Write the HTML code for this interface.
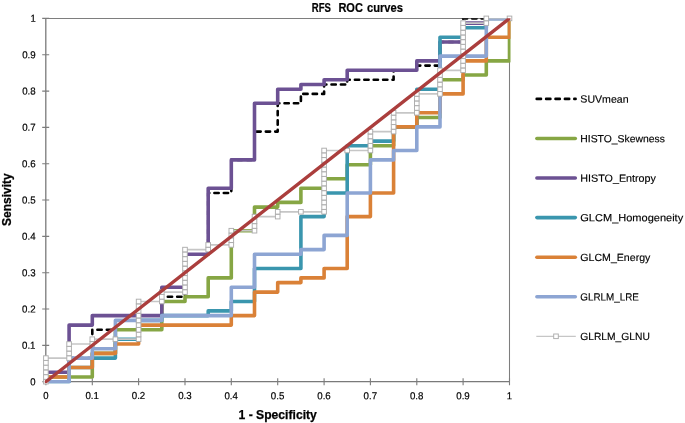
<!DOCTYPE html>
<html><head><meta charset="utf-8"><title>RFS ROC curves</title>
<style>
html,body{margin:0;padding:0;background:#fff;}
body{width:685px;height:423px;overflow:hidden;position:relative;font-family:"Liberation Sans",sans-serif;}
</style></head><body>
<svg width="685" height="423" viewBox="0 0 685 423" style="position:absolute;left:0;top:0;will-change:transform;opacity:0.999">
<rect width="685" height="423" fill="#fff"/>
<defs><clipPath id="pc"><rect x="44.7" y="18.2" width="465.8" height="365.3"/></clipPath></defs>
<path d="M45.9 18.4 H509.5 V381.7" fill="none" stroke="#7e7e7e" stroke-width="1.05"/>
<path d="M45.8 18.4 V381.7 H509.5" fill="none" stroke="#7a7a7a" stroke-width="1.3"/>
<path d="M45.9 378.2 V385.2 M42.2 381.7 H49.2 M92.3 378.2 V385.2 M42.2 345.4 H49.2 M138.6 378.2 V385.2 M42.2 309.0 H49.2 M185.0 378.2 V385.2 M42.2 272.7 H49.2 M231.3 378.2 V385.2 M42.2 236.4 H49.2 M277.7 378.2 V385.2 M42.2 200.0 H49.2 M324.1 378.2 V385.2 M42.2 163.7 H49.2 M370.4 378.2 V385.2 M42.2 127.4 H49.2 M416.8 378.2 V385.2 M42.2 91.1 H49.2 M463.1 378.2 V385.2 M42.2 54.7 H49.2 M509.5 378.2 V385.2 M42.2 18.4 H49.2" fill="none" stroke="#7c7c7c" stroke-width="1.1"/>
<g clip-path="url(#pc)">
<path d="M45.9 381.7 L45.9 372.3 L69.1 372.3 L69.1 358.1 L92.3 358.1 L92.3 329.8 L115.4 329.8 L138.6 329.8 L161.8 329.8 L161.8 296.8 L185.0 296.8 L185.0 254.3 L208.2 254.3 L208.2 193.0 L231.3 193.0 L231.3 159.9 L254.5 159.9 L254.5 131.6 L277.7 131.6 L277.7 103.3 L300.9 103.3 L300.9 93.9 L324.1 93.9 L324.1 84.5 L347.2 84.5 L347.2 79.7 L370.4 79.7 L393.6 79.7 L393.6 70.3 L416.8 70.3 L416.8 65.6 L440.0 65.6 L440.0 42.0 L463.1 42.0 L463.1 18.4 L486.3 18.4 L509.5 18.4" fill="none" stroke="#000000" stroke-width="2.6" stroke-linejoin="round" stroke-dasharray="4.3 5.1" stroke-linecap="round"/>
<path d="M45.9 381.7 L45.9 377.0 L69.1 377.0 L92.3 377.0 L92.3 353.4 L115.4 353.4 L115.4 329.8 L138.6 329.8 L161.8 329.8 L161.8 301.5 L185.0 301.5 L185.0 296.8 L208.2 296.8 L208.2 277.9 L231.3 277.9 L231.3 230.7 L254.5 230.7 L254.5 207.1 L277.7 207.1 L277.7 202.4 L300.9 202.4 L300.9 188.3 L324.1 188.3 L324.1 178.8 L347.2 178.8 L347.2 164.7 L370.4 164.7 L370.4 145.8 L393.6 145.8 L393.6 126.9 L416.8 126.9 L416.8 117.5 L440.0 117.5 L440.0 79.7 L463.1 79.7 L463.1 75.0 L486.3 75.0 L486.3 60.9 L509.5 60.9 L509.5 18.4" fill="none" stroke="#86A644" stroke-width="3.6" stroke-linejoin="round" stroke-linecap="round"/>
<path d="M45.9 381.7 L45.9 372.3 L69.1 372.3 L69.1 325.1 L92.3 325.1 L92.3 315.6 L115.4 315.6 L138.6 315.6 L161.8 315.6 L161.8 287.3 L185.0 287.3 L185.0 254.3 L208.2 254.3 L208.2 188.3 L231.3 188.3 L231.3 159.9 L254.5 159.9 L254.5 103.3 L277.7 103.3 L277.7 89.2 L300.9 89.2 L300.9 84.5 L324.1 84.5 L324.1 79.7 L347.2 79.7 L347.2 70.3 L370.4 70.3 L393.6 70.3 L416.8 70.3 L416.8 60.9 L440.0 60.9 L440.0 42.0 L463.1 42.0 L463.1 23.1 L486.3 23.1 L486.3 18.4 L509.5 18.4" fill="none" stroke="#6C5193" stroke-width="3.6" stroke-linejoin="round" stroke-linecap="round"/>
<path d="M45.9 381.7 L69.1 381.7 L69.1 367.5 L92.3 367.5 L92.3 358.1 L115.4 358.1 L115.4 339.2 L138.6 339.2 L138.6 320.4 L161.8 320.4 L161.8 315.6 L185.0 315.6 L208.2 315.6 L208.2 310.9 L231.3 310.9 L231.3 301.5 L254.5 301.5 L254.5 268.5 L277.7 268.5 L300.9 268.5 L300.9 216.6 L324.1 216.6 L324.1 193.0 L347.2 193.0 L347.2 145.8 L370.4 145.8 L370.4 141.1 L393.6 141.1 L393.6 126.9 L416.8 126.9 L416.8 89.2 L440.0 89.2 L440.0 37.3 L463.1 37.3 L463.1 27.8 L486.3 27.8 L486.3 18.4 L509.5 18.4" fill="none" stroke="#3A96AE" stroke-width="3.6" stroke-linejoin="round" stroke-linecap="round"/>
<path d="M45.9 381.7 L45.9 377.0 L69.1 377.0 L69.1 367.5 L92.3 367.5 L92.3 353.4 L115.4 353.4 L115.4 344.0 L138.6 344.0 L138.6 325.1 L161.8 325.1 L185.0 325.1 L208.2 325.1 L231.3 325.1 L231.3 315.6 L254.5 315.6 L254.5 292.1 L277.7 292.1 L277.7 282.6 L300.9 282.6 L300.9 277.9 L324.1 277.9 L324.1 268.5 L347.2 268.5 L347.2 216.6 L370.4 216.6 L370.4 193.0 L393.6 193.0 L393.6 126.9 L416.8 126.9 L416.8 112.8 L440.0 112.8 L440.0 93.9 L463.1 93.9 L463.1 60.9 L486.3 60.9 L486.3 37.3 L509.5 37.3 L509.5 18.4" fill="none" stroke="#DA8137" stroke-width="3.6" stroke-linejoin="round" stroke-linecap="round"/>
<path d="M45.9 381.7 L69.1 381.7 L69.1 358.1 L92.3 358.1 L92.3 348.7 L115.4 348.7 L115.4 320.4 L138.6 320.4 L161.8 320.4 L161.8 315.6 L185.0 315.6 L208.2 315.6 L231.3 315.6 L231.3 287.3 L254.5 287.3 L254.5 254.3 L277.7 254.3 L300.9 254.3 L300.9 249.6 L324.1 249.6 L324.1 235.4 L347.2 235.4 L347.2 193.0 L370.4 193.0 L370.4 159.9 L393.6 159.9 L393.6 150.5 L416.8 150.5 L416.8 126.9 L440.0 126.9 L440.0 56.1 L463.1 56.1 L486.3 56.1 L486.3 18.4 L509.5 18.4" fill="none" stroke="#8DA5D3" stroke-width="3.6" stroke-linejoin="round" stroke-linecap="round"/>
<path d="M45.9 381.7 L45.9 358.1 L69.1 358.1 L69.1 344.0 L92.3 344.0 L92.3 339.2 L115.4 339.2 L138.6 339.2 L138.6 301.5 L161.8 301.5 L161.8 292.1 L185.0 292.1 L185.0 249.6 L208.2 249.6 L208.2 244.9 L231.3 244.9 L231.3 230.7 L254.5 230.7 L254.5 216.6 L277.7 216.6 L277.7 211.8 L300.9 211.8 L324.1 211.8 L324.1 150.5 L347.2 150.5 L370.4 150.5 L370.4 131.6 L393.6 131.6 L393.6 112.8 L416.8 112.8 L416.8 93.9 L440.0 93.9 L440.0 70.3 L463.1 70.3 L463.1 23.1 L486.3 23.1 L486.3 18.4 L509.5 18.4" fill="none" stroke="#C6C6C6" stroke-width="1.7" stroke-linejoin="round"/>
</g>
<g fill="#fff" stroke="#ADADAD" stroke-width="0.95"><rect x="43.6" y="379.4" width="4.6" height="4.6"/><rect x="43.6" y="374.7" width="4.6" height="4.6"/><rect x="43.6" y="370.0" width="4.6" height="4.6"/><rect x="43.6" y="365.2" width="4.6" height="4.6"/><rect x="43.6" y="360.5" width="4.6" height="4.6"/><rect x="43.6" y="355.8" width="4.6" height="4.6"/><rect x="66.8" y="355.8" width="4.6" height="4.6"/><rect x="66.8" y="351.1" width="4.6" height="4.6"/><rect x="66.8" y="346.4" width="4.6" height="4.6"/><rect x="66.8" y="341.7" width="4.6" height="4.6"/><rect x="90.0" y="341.7" width="4.6" height="4.6"/><rect x="90.0" y="336.9" width="4.6" height="4.6"/><rect x="113.1" y="336.9" width="4.6" height="4.6"/><rect x="136.3" y="336.9" width="4.6" height="4.6"/><rect x="136.3" y="332.2" width="4.6" height="4.6"/><rect x="136.3" y="327.5" width="4.6" height="4.6"/><rect x="136.3" y="322.8" width="4.6" height="4.6"/><rect x="136.3" y="318.1" width="4.6" height="4.6"/><rect x="136.3" y="313.3" width="4.6" height="4.6"/><rect x="136.3" y="308.6" width="4.6" height="4.6"/><rect x="136.3" y="303.9" width="4.6" height="4.6"/><rect x="136.3" y="299.2" width="4.6" height="4.6"/><rect x="159.5" y="299.2" width="4.6" height="4.6"/><rect x="159.5" y="294.5" width="4.6" height="4.6"/><rect x="159.5" y="289.8" width="4.6" height="4.6"/><rect x="182.7" y="289.8" width="4.6" height="4.6"/><rect x="182.7" y="285.0" width="4.6" height="4.6"/><rect x="182.7" y="280.3" width="4.6" height="4.6"/><rect x="182.7" y="275.6" width="4.6" height="4.6"/><rect x="182.7" y="270.9" width="4.6" height="4.6"/><rect x="182.7" y="266.2" width="4.6" height="4.6"/><rect x="182.7" y="261.4" width="4.6" height="4.6"/><rect x="182.7" y="256.7" width="4.6" height="4.6"/><rect x="182.7" y="252.0" width="4.6" height="4.6"/><rect x="182.7" y="247.3" width="4.6" height="4.6"/><rect x="205.9" y="247.3" width="4.6" height="4.6"/><rect x="205.9" y="242.6" width="4.6" height="4.6"/><rect x="229.0" y="242.6" width="4.6" height="4.6"/><rect x="229.0" y="237.9" width="4.6" height="4.6"/><rect x="229.0" y="233.1" width="4.6" height="4.6"/><rect x="229.0" y="228.4" width="4.6" height="4.6"/><rect x="252.2" y="228.4" width="4.6" height="4.6"/><rect x="252.2" y="223.7" width="4.6" height="4.6"/><rect x="252.2" y="219.0" width="4.6" height="4.6"/><rect x="252.2" y="214.3" width="4.6" height="4.6"/><rect x="275.4" y="214.3" width="4.6" height="4.6"/><rect x="275.4" y="209.5" width="4.6" height="4.6"/><rect x="298.6" y="209.5" width="4.6" height="4.6"/><rect x="321.8" y="209.5" width="4.6" height="4.6"/><rect x="321.8" y="204.8" width="4.6" height="4.6"/><rect x="321.8" y="200.1" width="4.6" height="4.6"/><rect x="321.8" y="195.4" width="4.6" height="4.6"/><rect x="321.8" y="190.7" width="4.6" height="4.6"/><rect x="321.8" y="186.0" width="4.6" height="4.6"/><rect x="321.8" y="181.2" width="4.6" height="4.6"/><rect x="321.8" y="176.5" width="4.6" height="4.6"/><rect x="321.8" y="171.8" width="4.6" height="4.6"/><rect x="321.8" y="167.1" width="4.6" height="4.6"/><rect x="321.8" y="162.4" width="4.6" height="4.6"/><rect x="321.8" y="157.6" width="4.6" height="4.6"/><rect x="321.8" y="152.9" width="4.6" height="4.6"/><rect x="321.8" y="148.2" width="4.6" height="4.6"/><rect x="344.9" y="148.2" width="4.6" height="4.6"/><rect x="368.1" y="148.2" width="4.6" height="4.6"/><rect x="368.1" y="143.5" width="4.6" height="4.6"/><rect x="368.1" y="138.8" width="4.6" height="4.6"/><rect x="368.1" y="134.1" width="4.6" height="4.6"/><rect x="368.1" y="129.3" width="4.6" height="4.6"/><rect x="391.3" y="129.3" width="4.6" height="4.6"/><rect x="391.3" y="124.6" width="4.6" height="4.6"/><rect x="391.3" y="119.9" width="4.6" height="4.6"/><rect x="391.3" y="115.2" width="4.6" height="4.6"/><rect x="391.3" y="110.5" width="4.6" height="4.6"/><rect x="414.5" y="110.5" width="4.6" height="4.6"/><rect x="414.5" y="105.7" width="4.6" height="4.6"/><rect x="414.5" y="101.0" width="4.6" height="4.6"/><rect x="414.5" y="96.3" width="4.6" height="4.6"/><rect x="414.5" y="91.6" width="4.6" height="4.6"/><rect x="437.7" y="91.6" width="4.6" height="4.6"/><rect x="437.7" y="86.9" width="4.6" height="4.6"/><rect x="437.7" y="82.2" width="4.6" height="4.6"/><rect x="437.7" y="77.4" width="4.6" height="4.6"/><rect x="437.7" y="72.7" width="4.6" height="4.6"/><rect x="437.7" y="68.0" width="4.6" height="4.6"/><rect x="460.8" y="68.0" width="4.6" height="4.6"/><rect x="460.8" y="63.3" width="4.6" height="4.6"/><rect x="460.8" y="58.6" width="4.6" height="4.6"/><rect x="460.8" y="53.8" width="4.6" height="4.6"/><rect x="460.8" y="49.1" width="4.6" height="4.6"/><rect x="460.8" y="44.4" width="4.6" height="4.6"/><rect x="460.8" y="39.7" width="4.6" height="4.6"/><rect x="460.8" y="35.0" width="4.6" height="4.6"/><rect x="460.8" y="30.3" width="4.6" height="4.6"/><rect x="460.8" y="25.5" width="4.6" height="4.6"/><rect x="460.8" y="20.8" width="4.6" height="4.6"/><rect x="484.0" y="20.8" width="4.6" height="4.6"/><rect x="484.0" y="16.1" width="4.6" height="4.6"/><rect x="507.2" y="16.1" width="4.6" height="4.6"/></g>
<path d="M45.9 381.7 L509.5 18.4" stroke="#AB3E3D" stroke-width="3.35" stroke-linecap="round" clip-path="url(#pc)"/>
<g font-family='"Liberation Sans", sans-serif' font-size="10.1" fill="#000" transform="rotate(0.03 342 211)" stroke="#000" stroke-width="0.2">
<text x="45.9" y="399.2" text-anchor="middle" textLength="5.3" lengthAdjust="spacingAndGlyphs">0</text>
<text x="35.6" y="385.3" text-anchor="end" textLength="5.3" lengthAdjust="spacingAndGlyphs">0</text>
<text x="92.3" y="399.2" text-anchor="middle" textLength="13.5" lengthAdjust="spacingAndGlyphs">0.1</text>
<text x="35.6" y="349.0" text-anchor="end" textLength="13.5" lengthAdjust="spacingAndGlyphs">0.1</text>
<text x="138.6" y="399.2" text-anchor="middle" textLength="13.5" lengthAdjust="spacingAndGlyphs">0.2</text>
<text x="35.6" y="312.6" text-anchor="end" textLength="13.5" lengthAdjust="spacingAndGlyphs">0.2</text>
<text x="185.0" y="399.2" text-anchor="middle" textLength="13.5" lengthAdjust="spacingAndGlyphs">0.3</text>
<text x="35.6" y="276.3" text-anchor="end" textLength="13.5" lengthAdjust="spacingAndGlyphs">0.3</text>
<text x="231.3" y="399.2" text-anchor="middle" textLength="13.5" lengthAdjust="spacingAndGlyphs">0.4</text>
<text x="35.6" y="240.0" text-anchor="end" textLength="13.5" lengthAdjust="spacingAndGlyphs">0.4</text>
<text x="277.7" y="399.2" text-anchor="middle" textLength="13.5" lengthAdjust="spacingAndGlyphs">0.5</text>
<text x="35.6" y="203.6" text-anchor="end" textLength="13.5" lengthAdjust="spacingAndGlyphs">0.5</text>
<text x="324.1" y="399.2" text-anchor="middle" textLength="13.5" lengthAdjust="spacingAndGlyphs">0.6</text>
<text x="35.6" y="167.3" text-anchor="end" textLength="13.5" lengthAdjust="spacingAndGlyphs">0.6</text>
<text x="370.4" y="399.2" text-anchor="middle" textLength="13.5" lengthAdjust="spacingAndGlyphs">0.7</text>
<text x="35.6" y="131.0" text-anchor="end" textLength="13.5" lengthAdjust="spacingAndGlyphs">0.7</text>
<text x="416.8" y="399.2" text-anchor="middle" textLength="13.5" lengthAdjust="spacingAndGlyphs">0.8</text>
<text x="35.6" y="94.7" text-anchor="end" textLength="13.5" lengthAdjust="spacingAndGlyphs">0.8</text>
<text x="463.1" y="399.2" text-anchor="middle" textLength="13.5" lengthAdjust="spacingAndGlyphs">0.9</text>
<text x="35.6" y="58.3" text-anchor="end" textLength="13.5" lengthAdjust="spacingAndGlyphs">0.9</text>
<text x="509.5" y="399.2" text-anchor="middle" textLength="5.3" lengthAdjust="spacingAndGlyphs">1</text>
<text x="35.6" y="22.0" text-anchor="end" textLength="5.3" lengthAdjust="spacingAndGlyphs">1</text>
</g>
<text x="311.8" y="12.2" font-family='"Liberation Sans", sans-serif' font-size="12.1" font-weight="bold" fill="#000" stroke="#000" stroke-width="0.2" textLength="19.1" lengthAdjust="spacingAndGlyphs">RFS</text>
<text x="338.4" y="12.2" font-family='"Liberation Sans", sans-serif' font-size="12.1" font-weight="bold" fill="#000" stroke="#000" stroke-width="0.2" textLength="24.5" lengthAdjust="spacingAndGlyphs">ROC</text>
<text x="366.9" y="12.2" font-family='"Liberation Sans", sans-serif' font-size="12.1" font-weight="bold" fill="#000" stroke="#000" stroke-width="0.2" textLength="36.2" lengthAdjust="spacingAndGlyphs">curves</text>
<text x="277.7" y="418.7" text-anchor="middle" font-family='"Liberation Sans", sans-serif' font-size="12.1" font-weight="bold" fill="#000" stroke="#000" stroke-width="0.25" textLength="78.2" lengthAdjust="spacingAndGlyphs">1 - Specificity</text>
<text transform="translate(10.8 199.6) rotate(-90)" text-anchor="middle" font-family='"Liberation Sans", sans-serif' font-size="12" font-weight="bold" fill="#000" stroke="#000" stroke-width="0.25">Sensivity</text>
<path d="M536.7 98.9 H575.6" stroke="#000" stroke-width="2.6" stroke-dasharray="4.3 5.1" stroke-linecap="round"/>
<text transform="rotate(0.03 342 211)" stroke="#000" stroke-width="0.15" x="580.3" y="102.5" font-family='"Liberation Sans", sans-serif' font-size="10.4" fill="#000" textLength="48.2" lengthAdjust="spacingAndGlyphs">SUVmean</text>
<path d="M536.9 138.5 H575.3" stroke="#86A644" stroke-width="3.6" stroke-linecap="round"/>
<text transform="rotate(0.03 342 211)" stroke="#000" stroke-width="0.15" x="580.3" y="142.1" font-family='"Liberation Sans", sans-serif' font-size="10.4" fill="#000" textLength="84.5" lengthAdjust="spacingAndGlyphs">HISTO_Skewness</text>
<path d="M536.9 178.0 H575.3" stroke="#6C5193" stroke-width="3.6" stroke-linecap="round"/>
<text transform="rotate(0.03 342 211)" stroke="#000" stroke-width="0.15" x="580.3" y="181.6" font-family='"Liberation Sans", sans-serif' font-size="10.4" fill="#000" textLength="75.6" lengthAdjust="spacingAndGlyphs">HISTO_Entropy</text>
<path d="M536.9 217.6 H575.3" stroke="#3A96AE" stroke-width="3.6" stroke-linecap="round"/>
<text transform="rotate(0.03 342 211)" stroke="#000" stroke-width="0.15" x="580.3" y="221.2" font-family='"Liberation Sans", sans-serif' font-size="10.4" fill="#000" textLength="102.9" lengthAdjust="spacingAndGlyphs">GLCM_Homogeneity</text>
<path d="M536.9 257.2 H575.3" stroke="#DA8137" stroke-width="3.6" stroke-linecap="round"/>
<text transform="rotate(0.03 342 211)" stroke="#000" stroke-width="0.15" x="580.3" y="260.8" font-family='"Liberation Sans", sans-serif' font-size="10.4" fill="#000" textLength="70.1" lengthAdjust="spacingAndGlyphs">GLCM_Energy</text>
<path d="M536.9 296.8 H575.3" stroke="#8DA5D3" stroke-width="3.6" stroke-linecap="round"/>
<text transform="rotate(0.03 342 211)" stroke="#000" stroke-width="0.15" x="580.3" y="300.4" font-family='"Liberation Sans", sans-serif' font-size="10.4" fill="#000" textLength="58.6" lengthAdjust="spacingAndGlyphs">GLRLM_LRE</text>
<path d="M536.3 336.3 H575.8" stroke="#C6C6C6" stroke-width="1.2"/>
<rect x="553.7" y="334.0" width="4.6" height="4.6" fill="#fff" stroke="#ADADAD" stroke-width="0.95"/>
<text transform="rotate(0.03 342 211)" stroke="#000" stroke-width="0.15" x="580.3" y="339.9" font-family='"Liberation Sans", sans-serif' font-size="10.4" fill="#000" textLength="69.6" lengthAdjust="spacingAndGlyphs">GLRLM_GLNU</text>
</svg>
</body></html>
